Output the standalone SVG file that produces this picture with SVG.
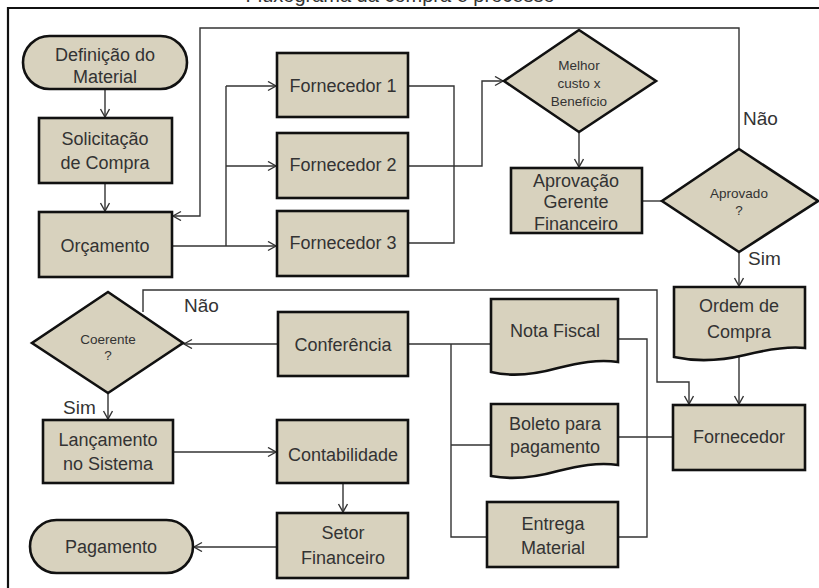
<svg xmlns="http://www.w3.org/2000/svg" width="819" height="588" viewBox="0 0 819 588">
<style>
.n{fill:#d8d2be;stroke:#111;stroke-width:2.6}
.t{font-family:"Liberation Sans",Arial,sans-serif;font-size:18px;fill:#333;text-anchor:middle}
.s{font-size:13.5px}
.lb{font-family:"Liberation Sans",Arial,sans-serif;font-size:19px;fill:#333}
.c{fill:none;stroke:#333;stroke-width:1.4}
.a{marker-end:url(#ar)}
</style>
<defs>
<marker id="ar" markerUnits="userSpaceOnUse" markerWidth="12" markerHeight="12" refX="9" refY="5" orient="auto">
<path d="M1,0.5 L9,5 L1,9.5" fill="none" stroke="#333" stroke-width="1.4"/>
</marker>
</defs>
<rect width="819" height="588" fill="#fff"/>
<text x="400" y="2" font-family="'Liberation Sans',Arial,sans-serif" font-size="20" fill="#333" text-anchor="middle">Fluxograma da compra e processo</text>
<path d="M8,588 V8 H819" fill="none" stroke="#111" stroke-width="2.2"/>

<g id="connectors">
<path class="c a" d="M105,89 V117"/>
<path class="c a" d="M105,183 V211"/>
<path class="c" d="M171,246 H226" stroke-width="2.2"/>
<path class="c" d="M226,86 V246"/>
<path class="c a" d="M226,86 H276"/>
<path class="c a" d="M226,166 H276"/>
<path class="c a" d="M226,246 H276"/>
<path class="c a" d="M739,149 V28 H200 V216 H173"/>
<path class="c" d="M408,86 H454 V243 H408"/>
<path class="c a" d="M408,166 H482 V81 H503"/>
<path class="c a" d="M579,132 V167"/>
<path class="c" d="M642,201 H662"/>
<path class="c a" d="M739,252 V286"/>
<path class="c a" d="M739,352 V404"/>
<path class="c a" d="M143,312 V290 H657 V382 H689 V404"/>
<path class="c a" d="M278,344 H184"/>
<path class="c a" d="M108,393 V419"/>
<path class="c" d="M408,344 H491"/>
<path class="c" d="M451,344 V537 H487"/>
<path class="c" d="M451,445 H491"/>
<path class="c" d="M618,339 H647 V537 H618"/>
<path class="c" d="M618,437 H673"/>
<path class="c a" d="M173,452 H276"/>
<path class="c a" d="M343,483 V512"/>
<path class="c a" d="M277,547 H194"/>
</g>

<g id="definicao">
<rect class="n" x="23" y="36" width="164" height="53" rx="26.5"/>
<text class="t" x="105" y="61">Definição do</text>
<text class="t" x="105" y="83">Material</text>
</g>
<g id="solicitacao">
<rect class="n" x="39" y="118" width="133" height="65"/>
<text class="t" x="105" y="145">Solicitação</text>
<text class="t" x="105" y="169">de Compra</text>
</g>
<g id="orcamento">
<rect class="n" x="39" y="212" width="133" height="65"/>
<text class="t" x="105" y="252">Orçamento</text>
</g>
<g id="fornecedor1">
<rect class="n" x="277" y="53" width="131" height="64"/>
<text class="t" x="343" y="92">Fornecedor 1</text>
</g>
<g id="fornecedor2">
<rect class="n" x="277" y="133" width="131" height="65"/>
<text class="t" x="343" y="171">Fornecedor 2</text>
</g>
<g id="fornecedor3">
<rect class="n" x="277" y="211" width="131" height="65"/>
<text class="t" x="343" y="249">Fornecedor 3</text>
</g>
<g id="melhor">
<path class="n" d="M579,30 L656,81 L579,132 L504,81 Z"/>
<text class="t s" x="579" y="70">Melhor</text>
<text class="t s" x="579" y="88">custo x</text>
<text class="t s" x="579" y="106">Benefício</text>
</g>
<g id="aprovacao">
<rect class="n" x="511" y="168" width="131" height="65"/>
<text class="t" x="576" y="187">Aprovação</text>
<text class="t" x="576" y="208">Gerente</text>
<text class="t" x="576" y="230">Financeiro</text>
</g>
<g id="aprovado">
<path class="n" d="M739,149 L818,201 L739,252 L662,201 Z"/>
<text class="t s" x="739" y="198">Aprovado</text>
<text class="t s" x="739" y="215">?</text>
</g>
<text class="lb" x="743" y="125">Não</text>
<text class="lb" x="748" y="265">Sim</text>
<g id="ordem">
<path class="n" d="M674,287 H805 V348 C785,346 765,350 745,355 C720,361 697,362 674,357 Z"/>
<text class="t" x="739" y="312">Ordem de</text>
<text class="t" x="739" y="338">Compra</text>
</g>
<g id="fornecedor">
<rect class="n" x="673" y="405" width="132" height="65"/>
<text class="t" x="739" y="443">Fornecedor</text>
</g>
<g id="nota">
<path class="n" d="M491,299 H618 V362 C598,359 578,363 558,368 C533,375 512,377 491,372 Z"/>
<text class="t" x="555" y="337">Nota Fiscal</text>
</g>
<g id="boleto">
<path class="n" d="M491,404 H618 V465 C598,462 578,466 558,471 C533,478 512,480 491,476 Z"/>
<text class="t" x="555" y="430">Boleto para</text>
<text class="t" x="555" y="453">pagamento</text>
</g>
<g id="entrega">
<rect class="n" x="487" y="502" width="131" height="65"/>
<text class="t" x="553" y="530">Entrega</text>
<text class="t" x="553" y="554">Material</text>
</g>
<g id="conferencia">
<rect class="n" x="278" y="312" width="130" height="64"/>
<text class="t" x="343" y="351">Conferência</text>
</g>
<g id="coerente">
<path class="n" d="M108,292 L183,343 L108,393 L32,343 Z"/>
<text class="t s" x="108" y="344">Coerente</text>
<text class="t s" x="108" y="360">?</text>
</g>
<text class="lb" x="184" y="312">Não</text>
<text class="lb" x="63" y="414">Sim</text>
<g id="lancamento">
<rect class="n" x="43" y="420" width="130" height="63"/>
<text class="t" x="108" y="446">Lançamento</text>
<text class="t" x="108" y="470">no Sistema</text>
</g>
<g id="contabilidade">
<rect class="n" x="277" y="420" width="131" height="63"/>
<text class="t" x="343" y="461">Contabilidade</text>
</g>
<g id="setor">
<rect class="n" x="277" y="513" width="131" height="65"/>
<text class="t" x="343" y="539">Setor</text>
<text class="t" x="343" y="564">Financeiro</text>
</g>
<g id="pagamento">
<rect class="n" x="30" y="520" width="163" height="53" rx="26.5"/>
<text class="t" x="111" y="553">Pagamento</text>
</g>
</svg>
